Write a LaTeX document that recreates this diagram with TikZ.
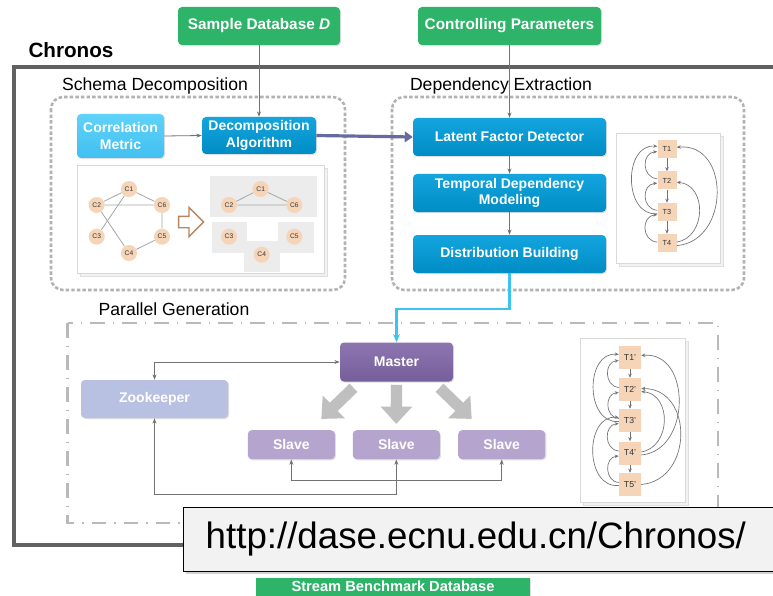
\documentclass[tikz,border=0pt]{standalone}
\usepackage{fontspec}
\setmainfont{Liberation Sans}
\usetikzlibrary{arrows.meta,shapes.arrows,shadows,calc}

\begin{document}
\begin{tikzpicture}[x=0.75pt, y=-0.75pt,
        box/.style={rounded corners=3pt, text=white, align=center, inner sep=0pt,
            font=\bfseries\fontsize{10.5}{12.5}\selectfont,
            drop shadow={opacity=0.25, shadow xshift=0.8pt, shadow yshift=-0.8pt}},
        greenbox/.style={box, fill=greenC, font=\bfseries\fontsize{11.5}{13}\selectfont},
        bluebox/.style={box, top color=blueT, bottom color=blueB},
        lightbox/.style={box, top color=lightT, bottom color=lightB},
        purplebox/.style={box, top color=purpleT, bottom color=purpleB},
        slavebox/.style={box, fill=slaveC},
        zoobox/.style={box, fill=zooC},
        steplabel/.style={font=\fontsize{13.2}{15}\selectfont, inner sep=0pt},
        stagebox/.style={draw=gray!60, line width=1.9pt, dash pattern=on 2.6pt off 1.6pt, rounded corners=9pt},
        pgbox/.style={draw=gray!55, line width=2.2pt, dash pattern=on 11pt off 6pt on 1pt off 6pt},
        panel/.style={draw=gray!30, fill=white, inner sep=0pt,
            copy shadow={shadow xshift=2.5pt, shadow yshift=-2.5pt, fill=gray!10, draw=gray!25}},
        cnode/.style={circle, fill=peachC, minimum size={16*\px}, inner sep=0pt, text=black!80,
            font=\fontsize{5}{6}\selectfont},
        tnode/.style={rectangle, fill=peachC, inner sep=0pt, text=black!80},
        cedge/.style={draw=gray!70, line width=0.6pt},
        conn/.style={draw=lineC, line width=0.6pt, >={Stealth[length=4pt, width=3pt]}},
        tcurve/.style={draw=lineC, line width=0.5pt, -{Stealth[length=3pt, width=2.6pt]}},
        bigarrow/.style={draw=gray!50, line width=8.5pt, -{Triangle[width=23pt, length=13pt]}}]
    \definecolor{greenC}{RGB}{45, 180, 105}
    \definecolor{blueT}{RGB}{20, 165, 222}
    \definecolor{blueB}{RGB}{0, 140, 196}
    \definecolor{lightT}{RGB}{95, 210, 250}
    \definecolor{lightB}{RGB}{65, 192, 240}
    \definecolor{purpleT}{RGB}{140, 118, 176}
    \definecolor{purpleB}{RGB}{118, 94, 154}
    \definecolor{slaveC}{RGB}{181, 164, 206}
    \definecolor{zooC}{RGB}{184, 193, 225}
    \definecolor{peachC}{RGB}{246, 212, 183}
    \definecolor{lineC}{RGB}{115, 115, 115}
    \definecolor{slateC}{RGB}{102, 106, 160}
    \definecolor{cyanC}{RGB}{60, 196, 240}
    \definecolor{brownC}{RGB}{180, 135, 95}
    \def\px{0.75pt}
    \useasboundingbox (0,0) rectangle (773,595);
    \clip (0,0) rectangle (773,595);
    \fill[white] (0,0) rectangle (773,595);

    % inputs and frame
    \node[greenbox, minimum width={162*\px}, minimum height={38*\px}] (sample) at (259,26) {Sample Database \textit{D}};
    \node[greenbox, minimum width={183*\px}, minimum height={38*\px}] (ctrl) at (509.5,26) {Controlling Parameters};
    \node[font=\bfseries\fontsize{15.5}{18}\selectfont, inner sep=0pt] (chronos) at (71,50) {Chronos};
    \draw[draw=black!62, line width=2.3pt] (14,67) rectangle (800,545);

    % schema decomposition
    \node[steplabel] (schemaLbl) at (155,86) {Schema Decomposition};
    \draw[stagebox] (51,97) rectangle (345,290);
    \node[lightbox, minimum width={87*\px}, minimum height={44*\px}] (corr) at (120.5,136) {Correlation\\Metric};
    \node[bluebox, minimum width={114*\px}, minimum height={37*\px}] (decomp) at (259,135.5) {Decomposition\\Algorithm};
    \node[panel, minimum width={247*\px}, minimum height={108*\px}] (schemaPanel) at (200.5,219) {};
    \fill[gray!15] (210,176) rectangle (316.7,217);
    \fill[gray!15] (212,222) rectangle (246.7,253);
    \fill[gray!15] (244,241) rectangle (280,271.7);
    \fill[gray!15] (277.7,221.7) rectangle (314.3,253);
    \node[cnode] (c1) at (129,189) {C1};
    \node[cnode] (c2) at (96.7,205) {C2};
    \node[cnode] (c6) at (162,205) {C6};
    \node[cnode] (c3) at (96.7,236.7) {C3};
    \node[cnode] (c5) at (162,236.7) {C5};
    \node[cnode] (c4) at (129,253) {C4};
    \draw[cedge] (c2) -- (c1) -- (c6) -- (c5) -- (c4) -- (c2) -- (c6);
    \draw[cedge] (c3) -- (c1);
    \node[single arrow, draw=brownC, fill=white, line width=1pt, inner xsep=0pt, inner ysep={5*\px},
        minimum height={25*\px}, single arrow head extend={9*\px}] (splitArrow) at (188.3,222) {};
    \node[cnode] (d1) at (260.7,189) {C1};
    \node[cnode] (d2) at (229,205) {C2};
    \node[cnode] (d6) at (294.3,205) {C6};
    \node[cnode] (d3) at (229,236.7) {C3};
    \node[cnode] (d5) at (294.3,236.7) {C5};
    \node[cnode] (d4) at (261.7,254.7) {C4};
    \draw[cedge] (d2) -- (d1) -- (d6) -- (d2);

    % dependency extraction
    \node[steplabel] (depLbl) at (501,86) {Dependency Extraction};
    \draw[stagebox] (392,97) rectangle (744,290);
    \node[bluebox, minimum width={193*\px}, minimum height={38*\px}] (latent) at (509.5,137) {Latent Factor Detector};
    \node[bluebox, minimum width={193*\px}, minimum height={38*\px}] (temporal) at (509.5,193) {Temporal Dependency\\Modeling};
    \node[bluebox, minimum width={193*\px}, minimum height={38*\px}] (distrib) at (509.5,254) {Distribution Building};
    \node[panel, minimum width={104*\px}, minimum height={130*\px}] (depPanel) at (668,198) {};
    \node[tnode, minimum width={19*\px}, minimum height={18*\px}, font=\fontsize{5.5}{6}\selectfont] (t1) at (667,149) {T1};
    \node[tnode, minimum width={19*\px}, minimum height={18*\px}, font=\fontsize{5.5}{6}\selectfont] (t2) at (667,180.5) {T2};
    \node[tnode, minimum width={19*\px}, minimum height={18*\px}, font=\fontsize{5.5}{6}\selectfont] (t3) at (667,212) {T3};
    \node[tnode, minimum width={19*\px}, minimum height={18*\px}, font=\fontsize{5.5}{6}\selectfont] (t4) at (667,243) {T4};
    \draw[tcurve] (t1) -- (t2);
    \draw[tcurve] (t2) -- (t3);
    \draw[tcurve] (t3) -- (t4);
    \draw[tcurve] (t2.170) to[out=175, in=185, looseness=1.5] (t1.195);
    \draw[tcurve] (t3.190) to[out=185, in=175, looseness=1.3] (t1.165);
    \draw[tcurve] (t3.170) to[out=175, in=185, looseness=1.5] (t2.195);
    \draw[tcurve] (t4.175) to[out=175, in=185, looseness=1.5] (t3.195);
    \draw[tcurve] (t4.5) to[out=10, in=-5, looseness=1.3] (t2.-10);
    \draw[tcurve] (t4.-15) to[out=5, in=5, looseness=1.4] (t1.10);

    % parallel generation
    \node[steplabel] (parLbl) at (174,309) {Parallel Generation};
    \draw[pgbox] (67.5,323) rectangle (718,523);
    \node[purplebox, minimum width={113*\px}, minimum height={39*\px}] (master) at (396.5,362) {Master};
    \node[zoobox, minimum width={147*\px}, minimum height={38*\px}] (zoo) at (154.5,399) {Zookeeper};
    \node[slavebox, minimum width={87*\px}, minimum height={29*\px}] (slave1) at (291.3,444.7) {Slave};
    \node[slavebox, minimum width={87*\px}, minimum height={29*\px}] (slave2) at (396.3,444.7) {Slave};
    \node[slavebox, minimum width={87*\px}, minimum height={29*\px}] (slave3) at (501.7,444.7) {Slave};
    \draw[bigarrow] ([xshift={-43*\px}, yshift={-6*\px}]master.south) -- ([xshift={30*\px}, yshift={11*\px}]slave1.north);
    \draw[bigarrow] ([yshift={-3*\px}]master.south) -- ([yshift={6*\px}]slave2.north);
    \draw[bigarrow] ([xshift={43*\px}, yshift={-6*\px}]master.south) -- ([xshift={-30*\px}, yshift={11*\px}]slave3.north);
    \draw[conn, <->] (zoo.north) |- (master.west);
    \coordinate (zooLow) at (154.5,494);
    \draw[conn, <->] (zoo.south) -- (zooLow) -| (slave2.south);
    \draw[conn, <->] (slave1.south) -- ++(0,21) -| (slave3.south);
    \node[panel, minimum width={105*\px}, minimum height={164*\px}] (parPanel) at (632.5,420) {};
    \node[tnode, minimum width={22*\px}, minimum height={23*\px}, font=\fontsize{6.5}{7}\selectfont] (p1) at (630,357.5) {T1'};
    \node[tnode, minimum width={22*\px}, minimum height={23*\px}, font=\fontsize{6.5}{7}\selectfont] (p2) at (630,389.5) {T2'};
    \node[tnode, minimum width={22*\px}, minimum height={23*\px}, font=\fontsize{6.5}{7}\selectfont] (p3) at (630,420.5) {T3'};
    \node[tnode, minimum width={22*\px}, minimum height={23*\px}, font=\fontsize{6.5}{7}\selectfont] (p4) at (630,453) {T4'};
    \node[tnode, minimum width={22*\px}, minimum height={23*\px}, font=\fontsize{6.5}{7}\selectfont] (p5) at (630,484.5) {T5'};
    \draw[tcurve] (p1) -- (p2);
    \draw[tcurve] (p2) -- (p3);
    \draw[tcurve] (p3) -- (p4);
    \draw[tcurve] (p4) -- (p5);
    \draw[tcurve] (p2.170) to[out=175, in=185, looseness=1.4] (p1.195);
    \draw[tcurve] (p3.185) to[out=185, in=175, looseness=1.3] (p1.165);
    \draw[tcurve] (p3.170) to[out=175, in=185, looseness=1.4] (p2.195);
    \draw[tcurve] (p4.170) to[out=175, in=185, looseness=1.4] (p3.195);
    \draw[tcurve] (p5.185) to[out=185, in=175, looseness=1.3] (p3.165);
    \draw[tcurve] (p5.170) to[out=175, in=185, looseness=1.4] (p4.195);
    \draw[tcurve] (p4.5) to[out=10, in=-5, looseness=1.3] (p2.-10);
    \draw[tcurve] (p4.-10) to[out=5, in=5, looseness=1.3] (p1.10);
    \draw[tcurve] (p5.0) to[out=5, in=0, looseness=1.4] (p2.5);

    % flow between stages
    \draw[conn, ->] (sample.south) -- (decomp.north);
    \draw[conn, ->] (ctrl.south) -- (latent.north);
    \draw[conn, ->] (corr.east) -- (decomp.west);
    \draw[draw=slateC, line width=2.4pt, -{Triangle[width=8pt, length=6pt]}] (decomp.east) -- (latent.west);
    \draw[conn, ->] (latent.south) -- (temporal.north);
    \draw[conn, ->] (temporal.south) -- (distrib.north);
    \coordinate (flowBend) at (450,309);
    \draw[draw=cyanC, line width=1.6pt, -{Stealth[length=6pt, width=5pt]}] (distrib.south) |- (flowBend) -| (master.north);

    % link and output
    \node[draw=black, line width=1.1pt, fill=black!5, anchor=west, text width={560*\px}, inner xsep={22*\px},
        minimum height={64*\px}, align=left, font=\fontsize{27.5}{32}\selectfont,
        drop shadow={opacity=0.35, shadow xshift=1.5pt, shadow yshift=-1.5pt}] (url) at (183,539.5) {http://dase.ecnu.edu.cn/Chronos/};
    \node[greenbox, minimum width={274*\px}, minimum height={18*\px}, rounded corners=0pt,
        font=\bfseries\fontsize{11}{13}\selectfont] (stream) at (393,586.5) {Stream Benchmark Database};
\end{tikzpicture}
\end{document}
